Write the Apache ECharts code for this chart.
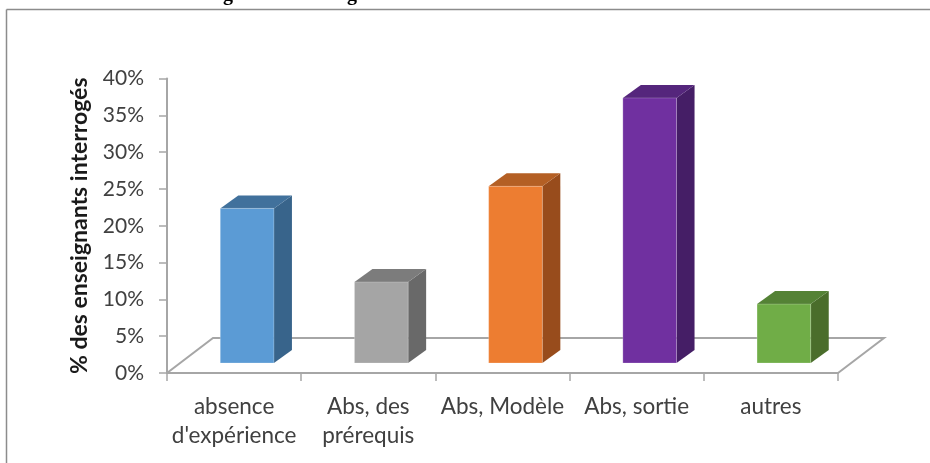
<!DOCTYPE html>
<html>
<head>
<meta charset="utf-8">
<style>html,body{margin:0;padding:0;background:#fff}#chart{width:930px;height:463px}</style>
<script src="https://cdn.jsdelivr.net/npm/echarts@6/dist/echarts.min.js"></script>
</head>
<body>
<div id="chart"></div>
<script>
const categories = ["absence\nd'expérience", "Abs, des\nprérequis", "Abs, Modèle", "Abs, sortie", "autres"];
const values = [21, 11, 24, 36, 8];
const yTicks = [0, 40];
const yTitle = '% des enseignants interrogés';

const frontColors = ['#5b9bd5', '#a5a5a5', '#ed7d31', '#7030a0', '#70ad47'];
const topColors = ['#41719c', '#7c7c7c', '#b45f24', '#55267c', '#548235'];
const sideColors = ['#38648b', '#696969', '#984c1c', '#451e66', '#4a6d2b'];

const axisGrey = '#a6a6a6';
const textGrey = '#404040';
const uiFont = 'Lato, "Open Sans", sans-serif';

// Projection used for the pseudo-3D look
const floorDepth = [46, -35];
const barDepth = [18, -13];
const barLift = 10;
const barShiftX = 13;

function renderFloor(params, api) {
  const band = api.size([1, 0])[0];
  const first = api.coord([0, 0]);
  const last = api.coord([categories.length - 1, 0]);
  const a = [first[0] - band / 2, first[1]];
  const b = [last[0] + band / 2, last[1]];
  return {
    type: 'polyline',
    shape: {
      points: [
        a,
        [a[0] + floorDepth[0], a[1] + floorDepth[1]],
        [b[0] + floorDepth[0], b[1] + floorDepth[1]],
        b
      ]
    },
    style: { stroke: axisGrey, lineWidth: 2, fill: null }
  };
}

function renderBar(params, api) {
  const i = api.value(0);
  const base = api.coord([i, 0]);
  const top = api.coord([i, api.value(1)]);
  const w = api.size([1, 0])[0] * 0.4;
  const x0 = base[0] + barShiftX - w / 2;
  const x1 = x0 + w;
  const yb = base[1] - barLift;
  const yt = top[1] - barLift;
  const dx = barDepth[0], dy = barDepth[1];
  const c = params.dataIndex;
  return {
    type: 'group',
    children: [
      {
        type: 'polygon',
        shape: { points: [[x1, yt], [x1 + dx, yt + dy], [x1 + dx, yb + dy], [x1, yb]] },
        style: { fill: sideColors[c] }
      },
      {
        type: 'polygon',
        shape: { points: [[x0, yt], [x0 + dx, yt + dy], [x1 + dx, yt + dy], [x1, yt]] },
        style: { fill: topColors[c] }
      },
      {
        type: 'rect',
        shape: { x: x0, y: yt, width: w, height: yb - yt },
        style: { fill: frontColors[c], stroke: 'rgba(255,255,255,0.22)', lineWidth: 1 }
      }
    ]
  };
}

const chart = echarts.init(document.getElementById('chart'), null, { renderer: 'canvas' });
chart.setOption({
  animation: false,
  backgroundColor: '#fff',
  grid: { left: 167, top: 78.5, width: 671, height: 294.5, containLabel: false },
  xAxis: {
    type: 'category',
    data: categories,
    axisLine: { lineStyle: { color: axisGrey, width: 2 } },
    axisTick: { show: true, length: 8, lineStyle: { color: axisGrey, width: 1.5 } },
    axisLabel: {
      interval: 0, color: textGrey, fontFamily: uiFont, fontSize: 22.5,
      lineHeight: 29, margin: 19
    }
  },
  yAxis: {
    type: 'value',
    min: yTicks[0],
    max: yTicks[1],
    interval: 5,
    name: yTitle,
    nameLocation: 'middle',
    nameGap: 76,
    nameTextStyle: { color: '#1a1a1a', fontFamily: uiFont, fontSize: 23, fontWeight: 'bold' },
    splitLine: { show: false },
    axisLine: { show: true, lineStyle: { color: axisGrey, width: 2 } },
    axisTick: { show: true, length: 8, lineStyle: { color: axisGrey, width: 1.5 } },
    axisLabel: {
      color: textGrey, fontFamily: uiFont, fontSize: 21, margin: 23,
      padding: [2, 0, 0, 0],
      formatter: v => v + '%'
    }
  },
  series: [
    {
      type: 'custom',
      renderItem: renderFloor,
      data: [[0, 0]],
      clip: false,
      silent: true,
      z: 1
    },
    {
      type: 'custom',
      renderItem: renderBar,
      encode: { x: 0, y: 1 },
      data: values.map((v, i) => [i, v]),
      clip: false,
      z: 2
    }
  ],
  graphic: [
    { type: 'line', shape: { x1: 6.5, y1: 9.5, x2: 930, y2: 9.5 }, style: { stroke: '#8c8c8c', lineWidth: 1.5 } },
    { type: 'line', shape: { x1: 6.5, y1: 9.5, x2: 6.5, y2: 463 }, style: { stroke: '#8c8c8c', lineWidth: 1.5 } },
    // Heading sits above the frame; only its descenders reach the page
    { type: 'text', x: 223, y: -15, style: { text: 'g', fill: '#000', font: 'bold 20px "Liberation Serif"' } },
    { type: 'text', x: 347, y: -15, style: { text: 'g', fill: '#000', font: 'bold 20px "Liberation Serif"' } }
  ]
});
</script>
</body>
</html>
